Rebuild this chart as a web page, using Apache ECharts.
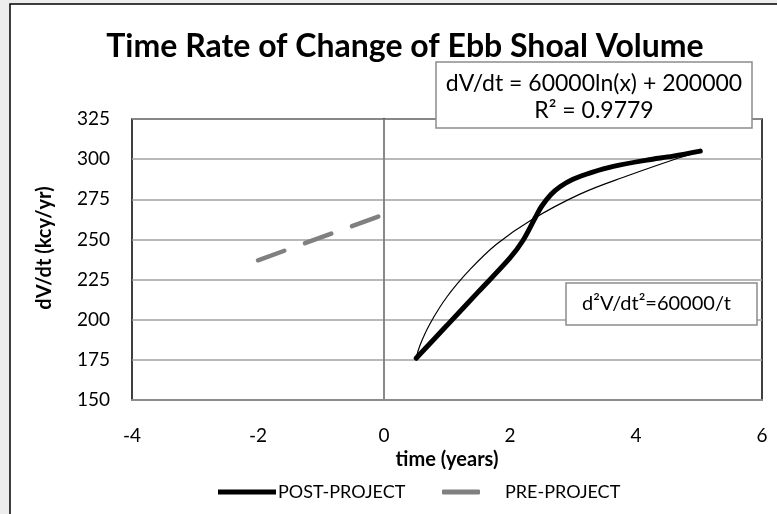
<!DOCTYPE html>
<html>
<head>
<meta charset="utf-8">
<script src="https://cdn.jsdelivr.net/npm/echarts@6/dist/echarts.min.js"></script>
<style>
  html, body { margin: 0; padding: 0; background: #ededed; }
  #chart { width: 777px; height: 514px; }
</style>
</head>
<body>
<div id="chart"></div>
<script>
const FONT = "Lato";

// values (time in years, dV/dt in kcy/yr)
const postTime = [0.51, 1.0, 1.5, 2.0, 2.2, 2.4, 2.5, 2.65, 2.8, 3.0, 3.3, 3.64, 4.17, 4.59, 5.02];
const postRate = [176.0, 196.5, 217.5, 238.5, 249.0, 263.5, 270.5, 278.0, 283.0, 287.5, 291.8, 295.5, 299.4, 301.9, 305.0];

const trendTime = [0.51, 0.57, 0.73, 1.0, 1.37, 1.79, 2.32, 3.11, 3.9, 4.7, 4.98];
const trendRate = [176.0, 184.0, 197.5, 214.3, 231.5, 247.2, 261.7, 278.2, 290.1, 301.0, 304.4];

const preTime = [-2.0, 0.0];
const preRate = [237.0, 265.5];

const titleText = "Time Rate of Change of Ebb Shoal Volume";
const xName = "time (years)";
const yName = "dV/dt (kcy/yr)";
const eqLine1 = "dV/dt = 60000ln(x) + 200000";
const eqLine2 = "R² = 0.9779";
const accelText = "d²V/dt²=60000/t";

const pairs = (xs, ys) => xs.map((x, i) => [x, ys[i]]);

const chart = echarts.init(document.getElementById("chart"));

chart.setOption({
  animation: false,
  backgroundColor: "#ededed",
  title: {
    text: titleText,
    left: 400,
    top: 26,
    textAlign: "center",
    textStyle: { fontFamily: FONT, fontWeight: "bold", fontSize: 32, color: "#000" },
  },
  grid: { left: 132, right: 15, top: 119, bottom: 114, show: true, borderColor: "#000", borderWidth: 1.5 },
  legend: [
    {
      data: [{ name: "POST-PROJECT", itemStyle: { color: "#000", borderWidth: 0 } }],
      left: 213, top: 478,
      icon: "rect", itemWidth: 58, itemHeight: 5,
      textStyle: { fontFamily: FONT, fontSize: 18, color: "#000", padding: [0, 0, 0, -3] },
    },
    {
      data: [{ name: "PRE-PROJECT", itemStyle: { color: "#808080", borderWidth: 0 } }],
      left: 437, top: 478,
      icon: "roundRect", itemWidth: 38, itemHeight: 5,
      textStyle: { fontFamily: FONT, fontSize: 18, color: "#000", padding: [0, 0, 0, 20] },
    },
  ],
  xAxis: {
    type: "value",
    min: -4, max: 6, interval: 2,
    name: xName,
    nameLocation: "middle",
    nameGap: 46,
    nameTextStyle: { fontFamily: FONT, fontWeight: "bold", fontSize: 20, color: "#000" },
    axisLine: { show: true, onZero: false, lineStyle: { color: "#8c8c8c", width: 2 } },
    axisTick: { show: false },
    axisLabel: { margin: 26, fontFamily: FONT, fontSize: 19, color: "#000" },
    splitLine: { show: false },
    z: 5,
  },
  yAxis: {
    type: "value",
    min: 150, max: 325, interval: 25,
    axisLine: { show: true, lineStyle: { color: "#000", width: 1.5 } },
    axisTick: { show: false },
    axisLabel: { margin: 22, fontFamily: FONT, fontSize: 19, color: "#000" },
    splitLine: { show: true, lineStyle: { color: "#a0a0a0", width: 1.5 } },
  },
  series: [
    {
      name: "PRE-PROJECT",
      type: "line",
      data: pairs(preTime, preRate),
      showSymbol: false,
      lineStyle: { color: "#808080", width: 4.5, type: [28, 22], cap: "round" },
      itemStyle: { color: "#808080" },
      markLine: {
        silent: true,
        symbol: ["none", "none"],
        label: { show: false },
        lineStyle: { color: "#a0a0a0", width: 1.5, type: "solid" },
        data: [{ xAxis: 0 }],
      },
      z: 3,
    },
    {
      name: "Log trend",
      type: "line",
      data: pairs(trendTime, trendRate),
      showSymbol: false,
      smooth: 0.4,
      lineStyle: { color: "#000", width: 1.2 },
      itemStyle: { color: "#000" },
      z: 3,
    },
    {
      name: "POST-PROJECT",
      type: "line",
      data: pairs(postTime, postRate),
      showSymbol: false,
      smooth: 0.35,
      lineStyle: { color: "#000", width: 5, cap: "round" },
      itemStyle: { color: "#000" },
      z: 4,
    },
  ],
  graphic: [
    {
      type: "rect", z: -100, silent: true,
      shape: { x: 10, y: 4, width: 800, height: 600 },
      style: { fill: "#fff", stroke: "#000", lineWidth: 1.5 },
    },
    {
      type: "text", z: 10, x: 45, y: 248, rotation: Math.PI / 2,
      style: { text: yName, font: "bold 20px " + FONT, fill: "#000", align: "center", verticalAlign: "middle" },
    },
    {
      type: "group", z: 100,
      children: [
        {
          type: "rect", z: 100,
          shape: { x: 436, y: 62, width: 316, height: 66 },
          style: { fill: "#fff", stroke: "#8c8c8c", lineWidth: 1.5 },
        },
        {
          type: "text", z: 101, x: 594, y: 84,
          style: { text: eqLine1, font: "23px " + FONT, fill: "#000", align: "center", verticalAlign: "middle" },
        },
        {
          type: "text", z: 101, x: 594, y: 111,
          style: { text: eqLine2, font: "23px " + FONT, fill: "#000", align: "center", verticalAlign: "middle" },
        },
        {
          type: "rect", z: 100,
          shape: { x: 566, y: 283, width: 191, height: 42 },
          style: { fill: "#fff", stroke: "#8c8c8c", lineWidth: 1.5 },
        },
        {
          type: "text", z: 101, x: 582, y: 304,
          style: { text: accelText, font: "20px " + FONT, fill: "#000", align: "left", verticalAlign: "middle" },
        },
      ],
    },
  ],
});
</script>
</body>
</html>
